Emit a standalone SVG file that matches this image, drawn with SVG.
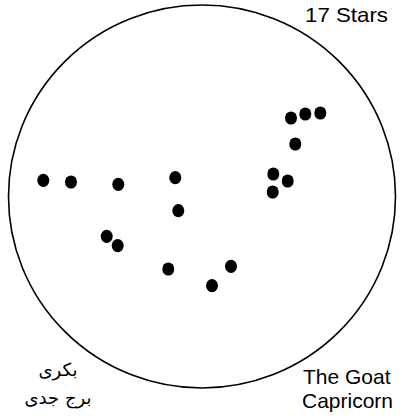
<svg xmlns="http://www.w3.org/2000/svg" width="402" height="418" viewBox="0 0 402 418">
<style>
.sky{fill:none;stroke:#000;stroke-width:1.6}
.star{fill:#000}
.lbl{font-family:"Liberation Sans",Arial,sans-serif;font-size:21px;fill:#000}
.ur{font-family:"DejaVu Sans","Noto Sans",sans-serif;font-size:18px;fill:#000}
</style>
<rect width="402" height="418" fill="#fff"/>
<g id="sky"><ellipse class="sky" cx="202" cy="196.5" rx="193.5" ry="191.5"/></g>
<g id="stars">
<ellipse id="s1" class="star" cx="43.3" cy="180.3" rx="6" ry="6.6"/>
<ellipse id="s2" class="star" cx="71" cy="182" rx="6" ry="6.6"/>
<ellipse id="s3" class="star" cx="118.3" cy="184.3" rx="6" ry="6.6"/>
<ellipse id="s4" class="star" cx="175.3" cy="177.7" rx="6" ry="6.6"/>
<ellipse id="s5" class="star" cx="178.3" cy="210.7" rx="6" ry="6.6"/>
<ellipse id="s6" class="star" cx="106.7" cy="236.3" rx="6" ry="6.6"/>
<ellipse id="s7" class="star" cx="117.7" cy="245.7" rx="6" ry="6.6"/>
<ellipse id="s8" class="star" cx="168.3" cy="269" rx="6" ry="6.6"/>
<ellipse id="s9" class="star" cx="212" cy="285.7" rx="6" ry="6.6"/>
<ellipse id="s10" class="star" cx="231" cy="266.3" rx="6" ry="6.6"/>
<ellipse id="s11" class="star" cx="273.3" cy="174" rx="6" ry="6.6"/>
<ellipse id="s12" class="star" cx="287.7" cy="181" rx="6" ry="6.6"/>
<ellipse id="s13" class="star" cx="272.7" cy="192" rx="6" ry="6.6"/>
<ellipse id="s14" class="star" cx="295.3" cy="144" rx="6" ry="6.6"/>
<ellipse id="s15" class="star" cx="291" cy="118" rx="6" ry="6.6"/>
<ellipse id="s16" class="star" cx="305.3" cy="114" rx="6" ry="6.6"/>
<ellipse id="s17" class="star" cx="320.3" cy="113" rx="6" ry="6.6"/>
</g>
<g id="labels">
<text class="lbl" x="305" y="22" textLength="83" lengthAdjust="spacingAndGlyphs">17 Stars</text>
<text class="lbl" x="303" y="384">The Goat</text>
<text class="lbl" x="302" y="408">Capricorn</text>
<text class="ur" x="58" y="376" text-anchor="middle" direction="rtl">بکری</text>
<text class="ur" x="58" y="404" text-anchor="middle" direction="rtl">برج جدی</text>
</g>
</svg>
